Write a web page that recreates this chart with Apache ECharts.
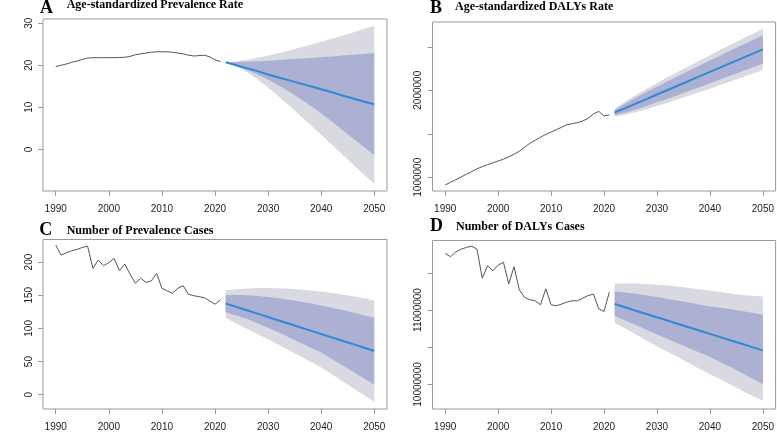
<!DOCTYPE html>
<html><head><meta charset="utf-8">
<script src="https://cdn.jsdelivr.net/npm/echarts@6/dist/echarts.min.js"></script>
<style>html,body{margin:0;padding:0;background:#fff}#c{width:777px;height:432px}</style>
</head><body><div id="c"></div>
<script>
const years = [1990,1991,1992,1993,1994,1995,1996,1997,1998,1999,2000,2001,2002,2003,2004,2005,2006,2007,2008,2009,2010,2011,2012,2013,2014,2015,2016,2017,2018,2019,2020,2021];
const fcYears = [2022,2024,2026,2028,2030,2032,2034,2036,2038,2040,2042,2044,2046,2048,2050];
const xTicks = [1990,2000,2010,2020,2030,2040,2050];

// A: Age-standardized Prevalence Rate
const A_hist = [19.7,20.0,20.3,20.7,21.0,21.4,21.7,21.8,21.8,21.8,21.8,21.8,21.85,21.9,22.1,22.5,22.7,22.9,23.1,23.2,23.2,23.2,23.1,22.9,22.7,22.4,22.2,22.3,22.4,22.0,21.3,20.9];
const A_fc   = [20.7,20.0,19.3,18.6,17.8,17.1,16.4,15.7,15.0,14.3,13.6,12.8,12.1,11.4,10.7];
const A_hi80 = [20.7,20.75,20.85,20.95,21.1,21.25,21.4,21.55,21.7,21.9,22.1,22.3,22.5,22.7,22.9];
const A_lo80 = [20.7,19.9,18.9,17.8,16.6,15.2,13.7,12.1,10.4,8.6,6.6,4.6,2.6,0.6,-1.4];
const A_hi95 = [20.7,20.9,21.3,21.8,22.3,22.9,23.5,24.2,24.9,25.6,26.3,27.1,27.8,28.6,29.4];
const A_lo95 = [20.7,19.7,18.4,16.7,14.7,12.6,10.4,8.1,5.8,3.45,1.1,-1.25,-3.6,-5.95,-8.2];
const A_yTicks = [0,10,20,30];
const A_yLabels = [0,10,20,30];

// B: Age-standardized DALYs Rate
const B_hist = [911000,942000,972000,1003000,1034000,1066000,1097000,1122000,1145000,1166000,1187000,1208000,1235000,1265000,1300000,1345000,1391000,1425000,1460000,1492000,1520000,1548000,1575000,1605000,1615000,1628000,1648000,1678000,1728000,1757000,1705000,1716000];
const B_fc   = [1743000,1795000,1847000,1899000,1951000,2003000,2055000,2107000,2159000,2211000,2263000,2315000,2367000,2419000,2471000];
const B_hi80 = [1773000,1847000,1914000,1979000,2041000,2103000,2163000,2223000,2283000,2342000,2400000,2459000,2517000,2575000,2633000];
const B_lo80 = [1713000,1743000,1780000,1819000,1861000,1903000,1947000,1991000,2035000,2080000,2126000,2171000,2217000,2263000,2309000];
const B_hi95 = [1787000,1871000,1946000,2016000,2083000,2149000,2214000,2277000,2340000,2403000,2465000,2526000,2587000,2648000,2708000];
const B_lo95 = [1699000,1719000,1748000,1782000,1819000,1857000,1896000,1937000,1978000,2019000,2061000,2104000,2147000,2190000,2234000];
const B_yTicks = [1000000,1500000,2000000,2500000];
const B_yLabels = [1000000,2000000];

// C: Number of Prevalence Cases
const C_hist = [225.6,210.5,214,217,219,222,224,190.5,203,194.5,199,205.5,187,197,182,168,175.5,169.5,171.5,183,160.4,156.4,153,160.4,164.4,151.4,149.3,147.8,146.3,141.4,136.4,142.9];
const C_fc   = [137.5,132.4,127.3,122.2,117.1,112.0,106.9,101.8,96.7,91.6,86.5,81.4,76.3,71.2,66];
const C_hi80 = [150,150.3,150,149,147.5,145.6,143.3,140.7,137.8,134.7,131.3,127.7,124,120,116];
const C_lo80 = [124.5,119.5,114,107.8,101,93.8,86.3,78.8,71.2,63.5,54,44.3,34.6,24.8,15];
const C_hi95 = [157.5,159,160,160.8,161,160.6,159.8,158.7,157.3,155.6,153.6,151.2,148.5,145.4,142];
const C_lo95 = [116,107.5,99.5,91.5,83.5,75.2,66.8,58.3,49.7,41,30.8,20.5,10.2,-0.1,-10.5];
const C_yTicks = [0,50,100,150,200];
const C_yLabels = [0,50,100,150,200];

// D: Number of DALYs Cases
const D_hist = [11760000,11715000,11780000,11817000,11840000,11857000,11817000,11427000,11595000,11528000,11604000,11640000,11350000,11582000,11270000,11168000,11137000,11124000,11070000,11284000,11070000,11057000,11080000,11107000,11124000,11124000,11160000,11195000,11213000,11017000,10980000,11240000];
const D_fc   = [11080000,11036000,10991000,10947000,10902000,10858000,10813000,10769000,10725000,10680000,10636000,10591000,10547000,10502000,10458000];
const D_hi80 = [11248000,11235000,11218000,11197000,11173000,11150000,11125000,11100000,11075000,11048000,11030000,11010000,10985000,10962000,10937000];
const D_lo80 = [10915000,10860000,10800000,10735000,10670000,10610000,10550000,10490000,10430000,10373000,10300000,10230000,10155000,10080000,10004000];
const D_hi95 = [11356000,11358000,11356000,11349000,11340000,11328000,11314000,11297000,11278000,11260000,11240000,11220000,11200000,11190000,11180000];
const D_lo95 = [10827000,10750000,10670000,10590000,10515000,10440000,10365000,10290000,10213000,10137000,10070000,9995000,9920000,9850000,9781000];
const D_yTicks = [10000000,10500000,11000000,11500000];
const D_yLabels = [10000000,11000000];

const panels = [
  {letter:'A', title:'Age-standardized Prevalence Rate', hist:A_hist, fc:A_fc, hi80:A_hi80, lo80:A_lo80, hi95:A_hi95, lo95:A_lo95, yt:A_yTicks, yl:A_yLabels,
   grid:{left:43, top:19, width:344, height:172}, ymin:-9.9, ymax:31.0,
   letterPos:[40,8.6], titlePos:[66.7,4.5]},
  {letter:'B', title:'Age-standardized DALYs Rate', hist:B_hist, fc:B_fc, hi80:B_hi80, lo80:B_lo80, hi95:B_hi95, lo95:B_lo95, yt:B_yTicks, yl:B_yLabels,
   grid:{left:432.5, top:22, width:344, height:169}, ymin:842000, ymax:2785000,
   letterPos:[430,7.9], titlePos:[455,7.1]},
  {letter:'C', title:'Number of Prevalence Cases', hist:C_hist, fc:C_fc, hi80:C_hi80, lo80:C_lo80, hi95:C_hi95, lo95:C_lo95, yt:C_yTicks, yl:C_yLabels,
   grid:{left:43, top:239.5, width:344, height:170}, ymin:-21.5, ymax:234,
   letterPos:[39.3,229.9], titlePos:[66.7,230.7]},
  {letter:'D', title:'Number of DALYs Cases', hist:D_hist, fc:D_fc, hi80:D_hi80, lo80:D_lo80, hi95:D_hi95, lo95:D_lo95, yt:D_yTicks, yl:D_yLabels,
   grid:{left:432.5, top:240.5, width:344, height:169.5}, ymin:9671000, ymax:11933000,
   letterPos:[430,226.6], titlePos:[456,227.4]}
];

const BORDER = '#9a9a9a';
const LABEL = '#222';
const OUTER = '#d9d9e1';
const INNER = '#acb0d2';
const BLUE = '#3189d3';
const HIST = '#555';

const grid = [], xAxis = [], yAxis = [], series = [], graphic = [];
const pair = (xs, ys) => xs.map((x, i) => [x, ys[i]]);

function bandSeries(i, xs, lo, hi, color) {
  return {
    type:'custom', coordinateSystem:'cartesian2d', xAxisIndex:i, yAxisIndex:i, silent:true, clip:true,
    data:[[xs[0], lo[0]]],
    renderItem:function(params, api) {
      const pts = [];
      for (let k = 0; k < xs.length; k++) pts.push(api.coord([xs[k], hi[k]]));
      for (let k = xs.length - 1; k >= 0; k--) pts.push(api.coord([xs[k], lo[k]]));
      return {type:'polygon', shape:{points:pts}, style:{fill:color, stroke:null}};
    }
  };
}

panels.forEach((p, i) => {
  grid.push(Object.assign({show:true, borderColor:BORDER, borderWidth:1, backgroundColor:'transparent'}, p.grid));
  xAxis.push({type:'value', gridIndex:i, min:1987.6, max:2052.4,
    axisLine:{show:false, onZero:false}, splitLine:{show:false},
    axisTick:{show:true, length:5, lineStyle:{color:BORDER}, customValues:xTicks},
    axisLabel:{show:true, customValues:xTicks, fontFamily:'Liberation Sans', fontSize:10, color:LABEL, margin:13, formatter:v=>String(v)}
  });
  yAxis.push({type:'value', gridIndex:i, min:p.ymin, max:p.ymax,
    axisLine:{show:false, onZero:false}, splitLine:{show:false},
    axisTick:{show:true, length:5, lineStyle:{color:BORDER}, customValues:p.yt},
    axisLabel:{show:true, customValues:p.yl, rotate:90, fontFamily:'Liberation Sans', fontSize:10, color:LABEL, margin:9, formatter:v=>String(v)}
  });
  const base = {type:'line', xAxisIndex:i, yAxisIndex:i, symbol:'none', showSymbol:false, silent:true};
  series.push(bandSeries(i, fcYears, p.lo95, p.hi95, OUTER));
  series.push(bandSeries(i, fcYears, p.lo80, p.hi80, INNER));
  series.push(Object.assign({}, base, {data:pair(years, p.hist), lineStyle:{color:HIST, width:1}}));
  series.push(Object.assign({}, base, {data:pair(fcYears, p.fc), lineStyle:{color:BLUE, width:2}}));

  graphic.push({type:'text', x:p.letterPos[0], y:p.letterPos[1], style:{text:p.letter, font:'bold 18px "Liberation Serif"', fill:'#000', verticalAlign:'middle', align:'left'}});
  graphic.push({type:'text', x:p.titlePos[0], y:p.titlePos[1], style:{text:p.title, font:'bold 12px "Liberation Serif"', fill:'#000', verticalAlign:'middle', align:'left'}});
});

const chart = echarts.init(document.getElementById('c'), null, {renderer:'canvas'});
chart.setOption({animation:false, backgroundColor:'#fff', grid, xAxis, yAxis, series, graphic});
</script></body></html>
